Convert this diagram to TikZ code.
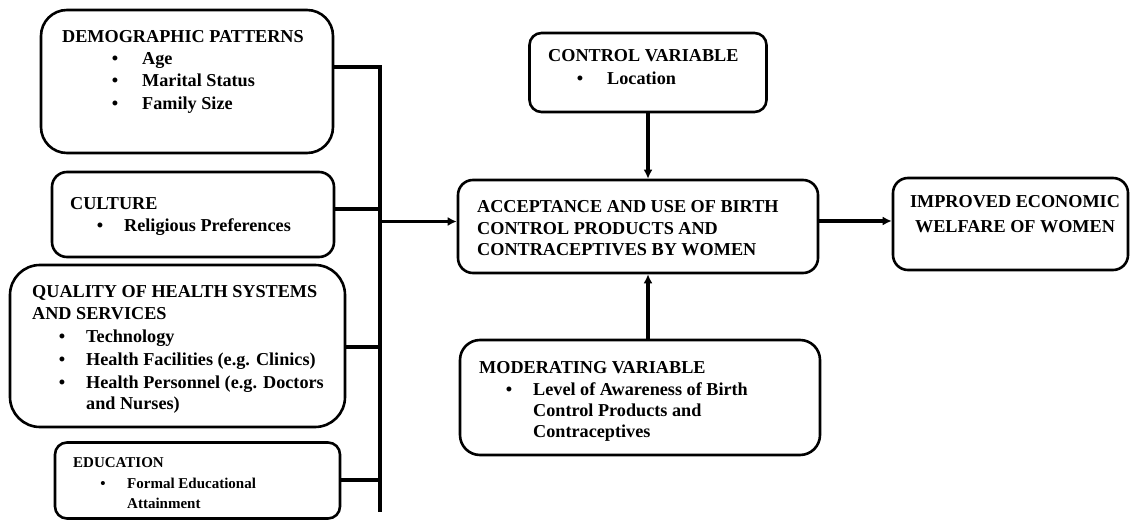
\documentclass[tikz,border=0pt]{standalone}
\usepackage{fontspec}
\setmainfont{Liberation Serif}
\usetikzlibrary{arrows.meta}
\tikzset{
  box/.style={draw, line width=2.6pt, rounded corners=#1, inner sep=0pt, fill=white},
  box/.default=14pt,
  txt/.style={inner sep=0pt, font=\fontsize{18.2}{21}\selectfont\bfseries, anchor=base west},
  stxt/.style={inner sep=0pt, font=\fontsize{15}{18}\selectfont\bfseries, anchor=base west},
  blt/.style={inner sep=0pt, font=\fontsize{18.2}{21}\selectfont\bfseries, anchor=base},
  sblt/.style={inner sep=0pt, font=\fontsize{15}{18}\selectfont\bfseries, anchor=base},
  conn/.style={line width=3.6pt},
  arr/.style={line width=3.6pt, -{Latex[length=9pt,width=9pt]}},
}
\begin{document}
\begin{tikzpicture}[x=1pt,y=-1pt]
\useasboundingbox (0,0) rectangle (1131,521);
% boxes
\node[box=26pt, minimum width=292pt, minimum height=143pt] (demo) at (187,81.5) {};
\node[box=15pt, minimum width=282pt, minimum height=85pt] (cult) at (193,214.5) {};
\node[box=30pt, minimum width=335pt, minimum height=162pt] (qual) at (177.5,346) {};
\node[box=12pt, minimum width=285pt, minimum height=76pt] (edu) at (197.5,480.5) {};
\node[box=12pt, minimum width=237pt, minimum height=79pt] (ctrl) at (648,72.5) {};
\node[box=15pt, minimum width=360pt, minimum height=93pt] (accept) at (638,226.5) {};
\node[box=20pt, minimum width=360pt, minimum height=115pt] (mod) at (640,397.5) {};
\node[box=15pt, minimum width=235pt, minimum height=92pt] (impr) at (1010.5,224) {};

% texts: demographic
\node[txt] (d0) at (62,43) {DEMOGRAPHIC PATTERNS};
\node[blt] (d1b) at (115,65) {\textbullet};
\node[txt] (d1) at (142,65) {Age};
\node[blt] (d2b) at (115,87) {\textbullet};
\node[txt] (d2) at (142,87) {Marital Status};
\node[blt] (d3b) at (115,109.5) {\textbullet};
\node[txt] (d3) at (142,109.5) {Family Size};
% culture
\node[txt] (c0) at (70,210) {CULTURE};
\node[blt] (c1b) at (100,231.5) {\textbullet};
\node[txt] (c1) at (124,231.5) {Religious Preferences};
% quality
\node[txt] (q0) at (32,297) {QUALITY OF HEALTH SYSTEMS};
\node[txt] (q0b) at (32,319) {AND SERVICES};
\node[blt] (q1b) at (62,342) {\textbullet};
\node[txt] (q1) at (86,342) {Technology};
\node[blt] (q2b) at (62,365) {\textbullet};
\node[txt] (q2) at (86,365) {Health Facilities (e.g. Clinics)};
\node[blt] (q3b) at (62,388) {\textbullet};
\node[txt] (q3) at (86,388) {Health Personnel (e.g. Doctors};
\node[txt] (q3c) at (86,409) {and Nurses)};
% education
\node[stxt] (e0) at (73,467) {EDUCATION};
\node[sblt] (e1b) at (103,488) {\textbullet};
\node[stxt] (e1) at (127,488) {Formal Educational};
\node[stxt] (e1c) at (127,508) {Attainment};
% control
\node[txt] (k0) at (548,62) {CONTROL VARIABLE};
\node[blt] (k1b) at (580,85) {\textbullet};
\node[txt] (k1) at (607,85) {Location};
% acceptance
\node[txt] (a0) at (477,213) {ACCEPTANCE AND USE OF BIRTH};
\node[txt] (a1) at (477,234.5) {CONTROL PRODUCTS AND};
\node[txt] (a2) at (477,255.5) {CONTRACEPTIVES BY WOMEN};
% moderating
\node[txt] (m0) at (479,373) {MODERATING VARIABLE};
\node[blt] (m1b) at (509,395) {\textbullet};
\node[txt] (m1) at (533,395) {Level of Awareness of Birth};
\node[txt] (m1c) at (533,416) {Control Products and};
\node[txt] (m1d) at (533,437) {Contraceptives};
% improved
\node[txt, anchor=base] (i0) at (1015,208) {IMPROVED ECONOMIC};
\node[txt, anchor=base] (i1) at (1015,233) {WELFARE OF WOMEN};

% bus
\coordinate (btop) at (380,67);
\coordinate (bcult) at (380,209);
\coordinate (bout) at (380,221.5);
\coordinate (bqual) at (380,347);
\coordinate (bedu) at (380,480);
\coordinate (bbot) at (380,512);
\draw[conn] (demo.east |- btop) -- (btop) -- (bbot);
\draw[conn] (cult.east |- bcult) -- (bcult);
\draw[conn] (qual.east |- bqual) -- (bqual);
\draw[conn] (edu.east |- bedu) -- (bedu);
\draw[arr] (bout) -- (bout -| accept.west);
\draw[arr] (ctrl.south) -- (ctrl.south |- accept.north);
\draw[arr] (mod.north -| ctrl.south) -- (ctrl.south |- accept.south);
\coordinate (rout) at (818,221);
\draw[arr] (accept.east |- rout) -- (rout -| impr.west);
\end{tikzpicture}
\end{document}
